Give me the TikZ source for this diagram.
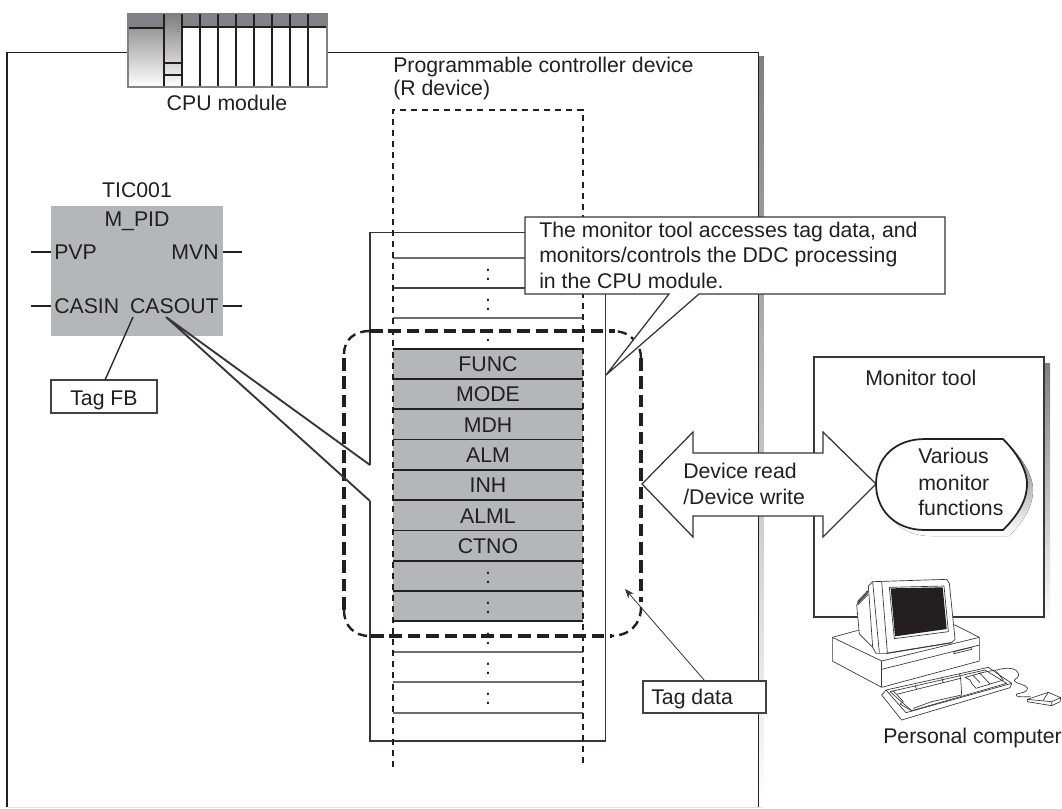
\documentclass[tikz,border=0pt]{standalone}
\usepackage{fontspec}
\setmainfont{Liberation Sans}
\usetikzlibrary{arrows.meta}
\definecolor{inkc}{HTML}{231F20}
\definecolor{shade}{HTML}{B5B6B8}
\definecolor{head}{HTML}{808285}
\def\px{0.75pt}
\tikzset{
  lab/.style={anchor=base west,inner sep=0pt,text=inkc,font=\fontsize{15.95}{18}\selectfont},
  labc/.style={lab,anchor=base},
  labe/.style={lab,anchor=base east},
  framel/.style={draw=inkc!90,line width=1.4pt},
  thinl/.style={draw=inkc,line width=1pt},
  rowbox/.style={inner sep=0pt,minimum width=190*\px,minimum height=30.3*\px,text height=11.25pt,text depth=0pt,text=inkc,font=\fontsize{15.95}{18}\selectfont},
  rowline/.style={line width=1.4pt},
  devdash/.style={draw=inkc,line width=1.3pt,dash pattern=on 4.5pt off 3.8pt},
  tagdash/.style={draw=inkc,line width=2.9pt,dash pattern=on 9.5pt off 4.3pt},
  tagarc/.style={draw=inkc,line width=1.8pt,dash pattern=on 7pt off 4pt},
  textbox/.style={draw=inkc!85,fill=white,line width=1.1pt,inner sep=0pt},
  pc/.style={draw=inkc!90,line width=0.5pt,fill=white,line join=round},
  pcl/.style={draw=inkc!90,line width=0.5pt,line join=round},
}
\begin{document}
\begin{tikzpicture}[x=0.75pt,y=-0.75pt]
\useasboundingbox (0,0) rectangle (1062,808);
\fill[white] (0,0) rectangle (1062,808);
% outer frame
\fill[shade] (759,56) rectangle (763.5,807);
\draw[inkc!12,line width=0.5pt] (7,807.5) -- (763,807.5);
\coordinate (fBL) at (7,807);
\coordinate (fTL) at (7,52.5);
\coordinate (fTR) at (758.5,52.5);
\coordinate (fBR) at (758.5,807);
% CPU module
\node[inner sep=0pt,minimum width=199*\px,minimum height=74*\px,fill=white] (cpu) at (227.5,50) {};
\draw[thinl] (fBL) -- (fTL) -- (cpu.west |- fTL);
\draw[thinl] (cpu.east |- fTR) -- (fTR) -- (fBR);
\fill[shade] (128,13) rectangle (182,87);
\fill[head] (128,13) rectangle (327,27);
\fill[shade] (164,14) rectangle (182,87);
\draw[line width=1.5pt,draw=inkc] (128,27.8) -- (164,27.8);
\draw[line width=1.1pt,draw=inkc] (182,27) -- (327,27);
\foreach \xx in {164,182,200,218,236,254,272,290,308}
  \draw[draw=inkc,line width=1.4pt] (\xx,14) -- (\xx,87);
\draw[draw=inkc,line width=0.8pt] (164,63) -- (182,63) (164,75) -- (182,75);
\foreach \yy in {23,26,29,31.5}
  \draw[draw=head,line width=0.7pt] (176.5,\yy) -- (179,\yy);
\draw[draw=head,line width=1.1pt] (128,13.5) rectangle (327,87);
\node[labc] (cpulab) at (227,110) {CPU module};
% monitor tool box
\fill[shade] (821,363) rectangle (1050,623);
\node[draw=inkc!90,fill=white,line width=1.1pt,inner sep=0pt,minimum width=230*\px,minimum height=260*\px] (montool) at (929,487) {};
\node[lab] (montoollab) at (865,385) {Monitor tool};
% bracket
\coordinate (bTL) at (370,232.5);
\coordinate (bTR) at (605.5,232.5);
\coordinate (bBR) at (605.5,741);
\coordinate (bBL) at (370,741);
\coordinate (bU) at (370,465);
\coordinate (bL) at (370,501);
\coordinate (casout) at (166,317);
\draw[framel,line join=miter] (bU) -- (bTL) -- (bTR) -- (bBR) -- (bBL) -- (bL);
% rows
\foreach \i/\t/\f in {0/:/white,1/:/white,2/:/white,3/FUNC/shade,4/MODE/shade,5/MDH/shade,6/ALM/shade,7/INH/shade,8/ALML/shade,9/CTNO/shade,10/:/shade,11/:/shade,12/:/white,13/:/white,14/:/white}
  \node[rowbox,fill=\f] (r\i) at (488,{273.15+30.3*\i}) {\t};
\foreach \i/\c in {0/inkc!65,1/inkc!85,2/inkc!65,3/inkc,4/inkc,5/inkc,6/inkc,7/inkc,8/inkc,9/inkc,10/inkc,11/inkc,12/inkc,13/inkc!65,14/inkc!65}
  \draw[rowline,draw=\c] (r\i.north west) -- (r\i.north east);
\draw[rowline,draw=inkc!65] (r14.south west) -- (r14.south east);
% device dashed column
\coordinate (dBL) at (393,767);
\coordinate (dTL) at (393,110);
\coordinate (dTR) at (583,110);
\coordinate (dBR) at (583,767);
\draw[devdash] (dBL) -- (dTL) -- (dTR) -- (dBR);
\node[lab] (devlab1) at (393,72) {Programmable controller device};
\node[lab] (devlab2) at (393,95) {(R device)};
% tag data dashed frame
\draw[tagdash] (370,331) -- (615,331);
\draw[tagdash] (641,358) -- (641,602);
\draw[tagdash] (371,636) -- (612,636);
\draw[tagdash] (344,358) -- (344,610);
\draw[tagarc] (344,354) .. controls (344,340) and (354,331) .. (370,331);
\draw[tagarc] (344,610) .. controls (344,626) and (354,636) .. (370,636);
\draw[tagarc] (641,607) .. controls (641,624) and (630,636) .. (610,636);
\draw[tagarc] (641,358) .. controls (641,345) and (632,331) .. (612,331);
% callout
\coordinate (tip) at (606,375);
\path[fill=white,draw=inkc!90,line width=0.95pt] (525,217) -- (945,217) -- (945,294) -- (699,294) -- (tip) -- (669,294) -- (525,294) -- cycle;
\node[lab] (c1) at (539,237) {The monitor tool accesses tag data, and};
\node[lab] (c2) at (539,262) {monitors/controls the DDC processing};
\node[lab] (c3) at (539,288) {in the CPU module.};
% double arrow
\path[fill=white,draw=inkc!90,line width=0.95pt,line join=miter] (642,484) -- (693,432) -- (693,453) -- (823,453) -- (823,432) -- (876,484) -- (823,537) -- (823,516) -- (693,516) -- (693,537) -- cycle;
\node[lab] (arr1) at (683,478) {Device read};
\node[lab] (arr2) at (683,504) {/Device write};
% display shape
\fill[shade] (931,445) -- (1009,445) .. controls (1022,458) and (1033,475) .. (1033,490) .. controls (1033,508) and (1022,523) .. (1009,536) -- (931,536) .. controls (900,536) and (882,515) .. (882,490) .. controls (882,465) and (900,445) .. (931,445) -- cycle;
\path[fill=white,draw=inkc,line width=1.3pt] (925,439) -- (1003,439) .. controls (1016,452) and (1027,469) .. (1027,484) .. controls (1027,502) and (1016,517) .. (1003,530) -- (925,530) .. controls (894,530) and (876,509) .. (876,484) .. controls (876,459) and (894,439) .. (925,439) -- cycle;
\node[lab] (v1) at (918,463) {Various};
\node[lab] (v2) at (918,490) {monitor};
\node[lab] (v3) at (918,515) {functions};
% function block
\node[fill=shade,inner sep=0pt,minimum width=172*\px,minimum height=130*\px] (fb) at (137,271) {};
\node[labc] (tic) at (137,197) {TIC001};
\node[labc] (mpid) at (137,226) {M\_PID};
\node[lab] (pvp) at (54,259) {PVP};
\node[labe] (mvn) at (219,259) {MVN};
\node[lab] (casin) at (54,313) {CASIN};
\node[labe] (casoutl) at (219,313) {CASOUT};
\coordinate (s1) at (31,252); \coordinate (s2) at (242,252);
\coordinate (s3) at (31,306); \coordinate (s4) at (242,306);
\draw[thinl] (s1) -- (s1 -| fb.west) (s2) -- (s2 -| fb.east) (s3) -- (s3 -| fb.west) (s4) -- (s4 -| fb.east);
\draw[framel,line join=miter] (bU) -- (casout) -- (bL);
% tag FB label
\node[textbox,minimum width=106*\px,minimum height=33*\px] (tagfb) at (104,396.5) {};
\node[labc] (tagfblab) at (104,405) {Tag FB};
\coordinate (casp) at (133,317);
\draw[thinl] (casp) -- (105,380);
% tag data label
\node[textbox,minimum width=123*\px,minimum height=32*\px] (tagd) at (704.5,697) {};
\node[lab] (tagdlab) at (651,704) {Tag data};
\coordinate (tagarrow) at (625,589);
\draw[draw=inkc!90,line width=0.6pt,-{Stealth[length=7pt,width=5.5pt]}] (705,681) -- (tagarrow);
% personal computer
\begin{scope}[shift={(800,560)},x=0.25pt,y=-0.25pt]
  % base
  \path[pc] (97,232) -- (170,212) -- (465,195) -- (538,232) -- (538,303) -- (245,382) -- (97,303) -- cycle;
  \draw[pcl] (97,232) -- (245,303) -- (538,232);
  \draw[pcl,line width=0.7pt] (245,303) -- (245,382);
  \draw[pcl] (245,328) -- (538,255);
  \path[pcl] (462,275) -- (515,262) -- (515,268) -- (462,281) -- cycle;
  % monitor back
  \path[pc] (170,135) -- (205,92) -- (240,90) -- (250,275) -- (218,262) -- (178,222) -- cycle;
  \draw[pcl] (172,125) -- (203,92) (172,130) -- (204,98) (174,134) -- (205,103);
  % monitor front
  \path[pc] (205,78) -- (218,65) -- (440,58) -- (448,70) -- (465,238) -- (455,248) -- (262,280) -- (228,280) -- (218,262) -- cycle;
  \draw[pcl] (218,65) -- (238,278) (245,64) -- (262,278);
  \draw[pcl] (268,82) -- (432,78) -- (445,215) -- (283,236) -- cycle;
  \fill[inkc] (272,85) -- (428,82) -- (440,207) -- (285,229) -- cycle;
  \draw[pcl,line width=0.7pt] (258,280) -- (455,248);
  % keyboard
  \path[pc] (245,405) -- (258,390) -- (565,322) -- (635,370) -- (630,383) -- (305,480) -- cycle;
  \draw[pcl] (258,390) -- (318,458) -- (635,370);
  \draw[pcl] (270,395) -- (555,330) -- (620,370) -- (335,452) -- cycle;
  \draw[pcl] (278,392) -- (290,403) -- (350,388) -- (345,376)
             (350,388) -- (430,368) -- (425,355)
             (430,368) -- (482,355) -- (478,343)
             (482,355) -- (485,405) -- (395,425) -- (340,445)
             (290,403) -- (310,425) -- (300,432) -- (335,452);
  \draw[pcl] (495,352) -- (540,340) -- (570,372) -- (528,385) -- (515,370) -- (510,360) -- cycle
             (520,347) -- (540,368) (535,340) -- (585,330) -- (610,360) -- (570,372);
  % cord
  \draw[pcl] (590,330) .. controls (625,320) and (650,325) .. (655,340) .. controls (660,360) and (630,355) .. (650,368) .. controls (670,375) and (690,380) .. (680,392) .. controls (670,402) and (640,398) .. (650,408) .. controls (660,412) and (675,410) .. (692,410);
  % mouse
  \path[pc] (682,418) -- (745,397) -- (782,413) -- (780,425) -- (755,437) -- (682,425) -- cycle;
  \draw[pcl] (682,418) -- (755,425) -- (782,413) (755,425) -- (755,437) (730,420) -- (745,397);
\end{scope}
\node[lab] (pclab) at (883,743) {Personal computer};
\end{tikzpicture}
\end{document}
